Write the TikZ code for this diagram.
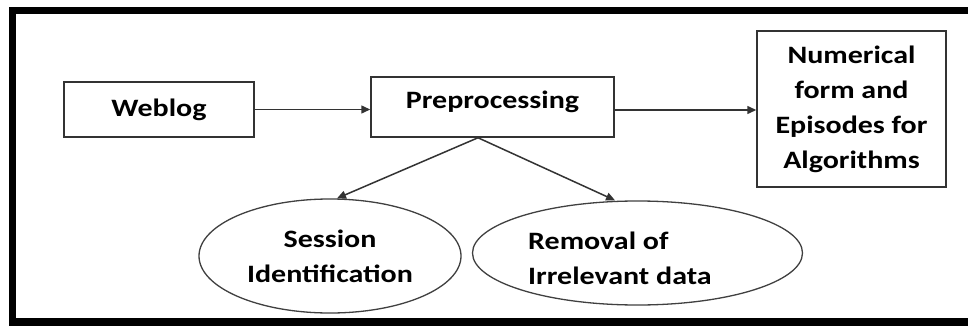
\documentclass[tikz,border=0pt]{standalone}
\usepackage{fontspec}
\setmainfont{Carlito}[FakeStretch=1.2]
\usetikzlibrary{arrows.meta,shapes.geometric}
\begin{document}
\begin{tikzpicture}[x=1pt,y=-1pt,
  every node/.style={font=\bfseries\fontsize{25}{35}\selectfont, text=black},
  boxnode/.style={draw=black!80, line width=1.5pt, rectangle, inner sep=0pt},
  ellnode/.style={draw=black!75, line width=1.3pt, ellipse, inner sep=0pt},
  conn/.style={draw=black!80, line width=1.5pt, -{Triangle[length=9pt,width=8pt]}}
]
\useasboundingbox (0,0) rectangle (968,326);
\fill[white] (0,0) rectangle (968,326);
\draw[line width=7.5pt, black] (980,10.5) -- (12.5,10.5) -- (12.5,322) -- (980,322);

\node[boxnode, minimum width=190pt, minimum height=55pt] (web) at (159,109.5) {Weblog};
\node[boxnode, minimum width=243pt, minimum height=60pt, text height=17pt, text depth=14pt] (pre) at (492.5,107) {Preprocessing};
\node[boxnode, minimum width=189pt, minimum height=156pt, align=center] (num) at (851.5,109) {Numerical\\form and\\Episodes for\\Algorithms};

\node[ellnode, minimum width=262pt, minimum height=114pt, align=center] (ses) at (330,256) {Session\\Identification};
\node[ellnode, minimum width=330pt, minimum height=104pt] (rem) at (637.5,253) {};
\node[align=left, inner sep=0pt, anchor=west] (remt) at (528,258) {Removal of\\Irrelevant data};

\draw[conn] (web.east) -- (web.east -| pre.west);
\draw[conn] ([yshift=-3pt]pre.east) -- ([yshift=-3pt]pre.east -| num.west);
\draw[conn] ([xshift=-14.5pt]pre.south) -- ([xshift=7pt]ses.north);
\draw[conn] ([xshift=-14.5pt]pre.south) -- ([xshift=-22.5pt]rem.north);
\end{tikzpicture}
\end{document}
